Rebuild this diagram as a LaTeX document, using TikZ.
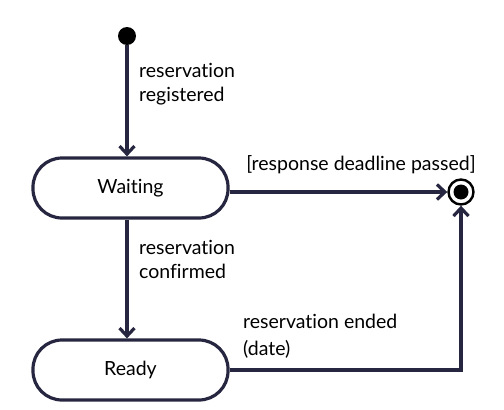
\documentclass[tikz,border=0pt]{standalone}
\usepackage{fontspec}
\setmainfont{Lato}[Ligatures={NoCommon,NoContextual}]
\usetikzlibrary{arrows.meta}
\definecolor{ln}{HTML}{262640}
\begin{document}
\begin{tikzpicture}[x=1pt,y=-1pt,
  state/.style={draw=ln,line width=3.2pt,rounded corners=29pt,minimum width=195pt,minimum height=60pt,inner sep=0pt,font=\fontsize{19.5}{19.5}\selectfont},
  conn/.style={draw=ln,line width=3.2pt,-{Straight Barb[length=8pt,width=15pt,line width=3.2pt]}},
  lbl/.style={font=\fontsize{19.5}{24}\selectfont,inner sep=0pt,anchor=base west}]
\useasboundingbox (0,0) rectangle (504,410);
\node[circle,fill=black,minimum size=18pt,inner sep=0pt] (init) at (127,36) {};
\node[state] (wait) at (130.5,188) {Waiting};
\node[state] (ready) at (130.5,370) {Ready};
\node[circle,draw=black,line width=2.4pt,fill=white,minimum size=25pt,inner sep=0pt] (fin) at (461,192) {};
\node[circle,fill=black,minimum size=15pt,inner sep=0pt] at (fin) {};
\draw[conn] (init) -- (init |- wait.north);
\draw[conn] (wait.south -| init) -- (ready.north -| init);
\draw[conn] (wait.east |- fin) -- (fin.west);
\draw[conn] (ready.east) -| (fin.south);
\node[lbl] (l1a) at (139,77) {reservation};
\node[lbl] (l1b) at (139,101) {registered};
\node[lbl] (l2a) at (139,254) {reservation};
\node[lbl] (l2b) at (139,278) {confirmed};
\node[lbl,anchor=base] (l3) at (361,170) {[response deadline passed]};
\node[lbl] (l4a) at (243,328) {reservation ended};
\node[lbl] (l4b) at (243,355) {(date)};
\end{tikzpicture}
\end{document}
